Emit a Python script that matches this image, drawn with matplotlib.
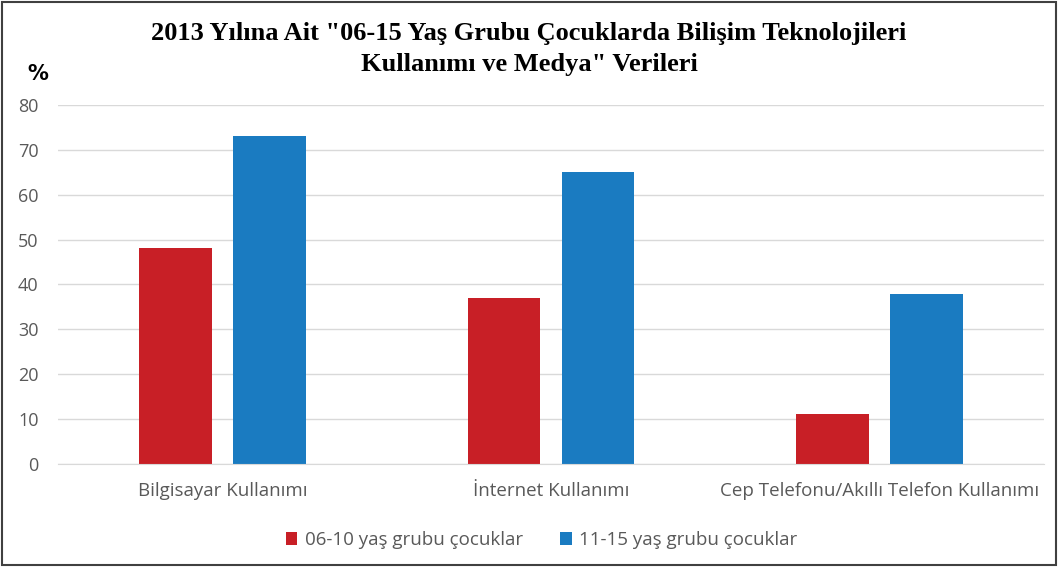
import numpy as np
import matplotlib.pyplot as plt
import matplotlib.patches as patches

# data
categories = ['Bilgisayar Kullanımı', 'İnternet Kullanımı',
              'Cep Telefonu/Akıllı Telefon Kullanımı']
grp_0610 = [48.2, 37.0, 11.1]
grp_1115 = [73.0, 65.0, 37.8]
series_names = ['06-10 yaş grubu çocuklar', '11-15 yaş grubu çocuklar']
yticks = [0, 10, 20, 30, 40, 50, 60, 70, 80]

red = '#C81F26'
blue = '#1A7BC1'
grey = '#595959'

fig = plt.figure(figsize=(10.58, 5.67), dpi=100)
ax = fig.add_axes([0.0548, 0.1817, 0.932, 0.6331])

x = np.arange(len(categories))
w = 0.222
ax.bar(x - 0.143, grp_0610, w, color=red, label=series_names[0])
ax.bar(x + 0.143, grp_1115, w, color=blue, label=series_names[1])

ax.set_xlim(-0.5, 2.5)
ax.set_ylim(0, 80)
ax.set_yticks(yticks)
ax.grid(axis='y', color='#d9d9d9', linewidth=1)
ax.set_axisbelow(True)
for s in ['top', 'right', 'left']:
    ax.spines[s].set_visible(False)
ax.spines['bottom'].set_color('#d9d9d9')
ax.tick_params(axis='both', length=0, colors=grey, labelsize=13)
ax.tick_params(axis='x', pad=13)
ax.tick_params(axis='y', pad=14)
ax.set_xticks(x)
ax.set_xticklabels(categories, fontfamily='Open Sans', fontsize=13.5)
for lab in ax.get_yticklabels():
    lab.set_fontfamily('Open Sans')

fig.text(0.5, 0.914, '2013 Yılına Ait "06-15 Yaş Grubu Çocuklarda Bilişim Teknolojileri\nKullanımı ve Medya" Verileri',
         ha='center', va='center', fontsize=19, fontweight='bold',
         fontfamily='Liberation Serif', linespacing=1.42)
fig.text(0.036, 0.87, '%', ha='center', va='center', fontsize=15,
         fontweight='bold', fontfamily='DejaVu Sans')

leg = fig.legend(loc='center', bbox_to_anchor=(0.512, 0.047), ncol=2,
                 frameon=False, handlelength=0.6, handleheight=0.7,
                 handletextpad=0.4, columnspacing=2.0,
                 prop={'family': 'Open Sans', 'size': 13.5})
for t in leg.get_texts():
    t.set_color(grey)

fig.patches.append(patches.Rectangle((0.002, 0.003), 0.996, 0.994,
                                     transform=fig.transFigure, fill=False,
                                     edgecolor='#404040', linewidth=1.5))

fig.savefig('out.png', dpi=100)
